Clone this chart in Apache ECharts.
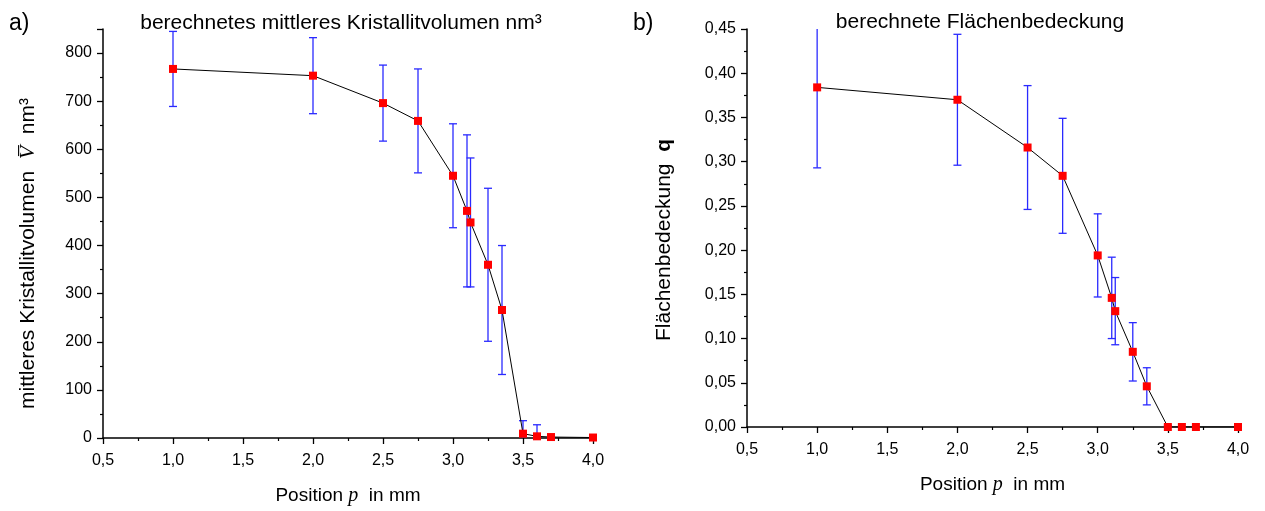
<!DOCTYPE html>
<html>
<head>
<meta charset="utf-8">
<script src="https://cdn.jsdelivr.net/npm/echarts@6/dist/echarts.min.js"></script>
<style>
html,body{margin:0;padding:0;background:#fff;}
#c{width:1265px;height:511px;}
</style>
</head>
<body>
<div id="c"></div>
<script>
// ---- data ----
const positions = [1.0, 2.0, 2.5, 2.75, 3.0, 3.1, 3.125, 3.25, 3.35, 3.5, 3.6, 3.7, 4.0];
const volume    = [767, 753, 696, 659, 545, 472, 448, 360, 266, 9, 3.5, 2, 1];
const volumeErr = [78, 79, 79, 108, 108, 158, 134, 159, 134, 27, 24, 0, 0];
const coverage    = [0.384, 0.370, 0.316, 0.284, 0.194, 0.146, 0.131, 0.085, 0.046, 0.0, 0.0, 0.0, 0.0];
const coverageErr = [0.091, 0.074, 0.070, 0.065, 0.047, 0.046, 0.038, 0.033, 0.021, 0.002, 0, 0, 0];

const FONT = 'Liberation Sans';
const fmt1 = v => v.toFixed(1).replace('.', ',');
const fmt2 = v => v.toFixed(2).replace('.', ',');

function errItem(params, api) {
  const x = api.value(0), y = api.value(1), e = api.value(2);
  if (!e) return null;
  const cs = params.coordSys;
  let top = api.coord([x, y + e]);
  let bot = api.coord([x, y - e]);
  const hw = 4;
  const st = {stroke: '#2a2aff', lineWidth: 1.3};
  const ch = [];
  let topCap = true, botCap = true;
  if (top[1] < cs.y) { top = [top[0], cs.y]; topCap = false; }
  if (bot[1] > cs.y + cs.height) { bot = [bot[0], cs.y + cs.height]; botCap = false; }
  ch.push({type: 'line', shape: {x1: top[0], y1: top[1], x2: bot[0], y2: bot[1]}, style: st});
  if (topCap) ch.push({type: 'line', shape: {x1: top[0] - hw, y1: top[1], x2: top[0] + hw, y2: top[1]}, style: st});
  if (botCap) ch.push({type: 'line', shape: {x1: bot[0] - hw, y1: bot[1], x2: bot[0] + hw, y2: bot[1]}, style: st});
  return {type: 'group', children: ch};
}

const axisLineStyle = {color: '#000', width: 1.5};
function xAxisCfg(gi) {
  return {
    type: 'value', gridIndex: gi, min: 0.5, max: 4.0, interval: 0.5,
    axisLine: {show: true, onZero: false, lineStyle: axisLineStyle},
    axisTick: {show: true, inside: false, length: 6, lineStyle: {color: '#000', width: 1.3}},
    minorTick: {show: true, splitNumber: 2, length: 3, lineStyle: {color: '#000', width: 1.2}},
    splitLine: {show: false},
    axisLabel: {formatter: fmt1, color: '#000', fontFamily: FONT, fontSize: 16, margin: 15},
    name: 'Position {p|p}  in mm', nameLocation: 'middle', nameGap: 48,
    nameTextStyle: {color: '#000', fontFamily: FONT, fontSize: 19,
      rich: {p: {fontFamily: 'Liberation Serif', fontStyle: 'italic', fontSize: 20, color: '#000'}}}
  };
}

const chart = echarts.init(document.getElementById('c'), null, {renderer: 'canvas'});
chart.setOption({
  backgroundColor: '#fff',
  animation: false,
  title: [
    {text: 'a)', left: 9, top: 12, padding: 0, textStyle: {fontFamily: FONT, fontSize: 23, fontWeight: 'normal', color: '#000'}},
    {text: 'berechnetes mittleres Kristallitvolumen nm³', left: 341, top: 13, padding: 0, textAlign: 'center',
     textStyle: {fontFamily: FONT, fontSize: 21, fontWeight: 'normal', color: '#000'}},
    {text: 'b)', left: 633, top: 12, padding: 0, textStyle: {fontFamily: FONT, fontSize: 23, fontWeight: 'normal', color: '#000'}},
    {text: 'berechnete Flächenbedeckung', left: 980, top: 12, padding: 0, textAlign: 'center',
     textStyle: {fontFamily: FONT, fontSize: 21, fontWeight: 'normal', color: '#000'}}
  ],
  grid: [
    {left: 103, top: 29, width: 490, height: 415, containLabel: false},
    {left: 747, top: 29, width: 491, height: 398, containLabel: false}
  ],
  xAxis: [xAxisCfg(0), xAxisCfg(1)],
  yAxis: [
    {
      type: 'value', gridIndex: 0, min: 0, max: 850, interval: 100,
      axisLine: {show: true, onZero: false, lineStyle: axisLineStyle},
      axisTick: {show: true, inside: false, length: 6, lineStyle: {color: '#000', width: 1.3}},
      minorTick: {show: true, splitNumber: 2, length: 3, lineStyle: {color: '#000', width: 1.2}},
      splitLine: {show: false},
      axisLabel: {color: '#000', fontFamily: FONT, fontSize: 16, margin: 11, showMaxLabel: false},
      name: 'mittleres Kristallitvolumen  {v|V\u0305}  nm³', nameLocation: 'middle', nameGap: 64,
      nameTextStyle: {color: '#000', fontFamily: FONT, fontSize: 21, padding: [0, 40, 0, 0],
        rich: {v: {fontFamily: 'Liberation Serif', fontStyle: 'italic', fontSize: 22, color: '#000'}}}
    },
    {
      type: 'value', gridIndex: 1, min: 0, max: 0.45, interval: 0.05,
      axisLine: {show: true, onZero: false, lineStyle: axisLineStyle},
      axisTick: {show: true, inside: false, length: 6, lineStyle: {color: '#000', width: 1.3}},
      minorTick: {show: true, splitNumber: 2, length: 3, lineStyle: {color: '#000', width: 1.2}},
      splitLine: {show: false},
      axisLabel: {formatter: fmt2, color: '#000', fontFamily: FONT, fontSize: 16, margin: 11},
      name: 'Flächenbedeckung  {q|q}', nameLocation: 'middle', nameGap: 72,
      nameTextStyle: {color: '#000', fontFamily: FONT, fontSize: 21, padding: [0, 24, 0, 0],
        rich: {q: {fontFamily: FONT, fontWeight: 'bold', fontSize: 21, color: '#000'}}}
    }
  ],
  series: [
    {
      type: 'custom', xAxisIndex: 0, yAxisIndex: 0, z: 2,
      renderItem: errItem,
      data: positions.map((p, i) => [p, volume[i], volumeErr[i]])
    },
    {
      type: 'line', xAxisIndex: 0, yAxisIndex: 0, z: 3,
      data: positions.map((p, i) => [p, volume[i]]),
      symbol: 'rect', symbolSize: 8, showAllSymbol: true,
      itemStyle: {color: '#ff0000', borderWidth: 0},
      lineStyle: {color: '#000', width: 1}
    },
    {
      type: 'custom', xAxisIndex: 1, yAxisIndex: 1, z: 2,
      renderItem: errItem,
      data: positions.map((p, i) => [p, coverage[i], coverageErr[i]])
    },
    {
      type: 'line', xAxisIndex: 1, yAxisIndex: 1, z: 3,
      data: positions.map((p, i) => [p, coverage[i]]),
      symbol: 'rect', symbolSize: 8, showAllSymbol: true,
      itemStyle: {color: '#ff0000', borderWidth: 0},
      lineStyle: {color: '#000', width: 1}
    }
  ]
});
</script>
</body>
</html>
